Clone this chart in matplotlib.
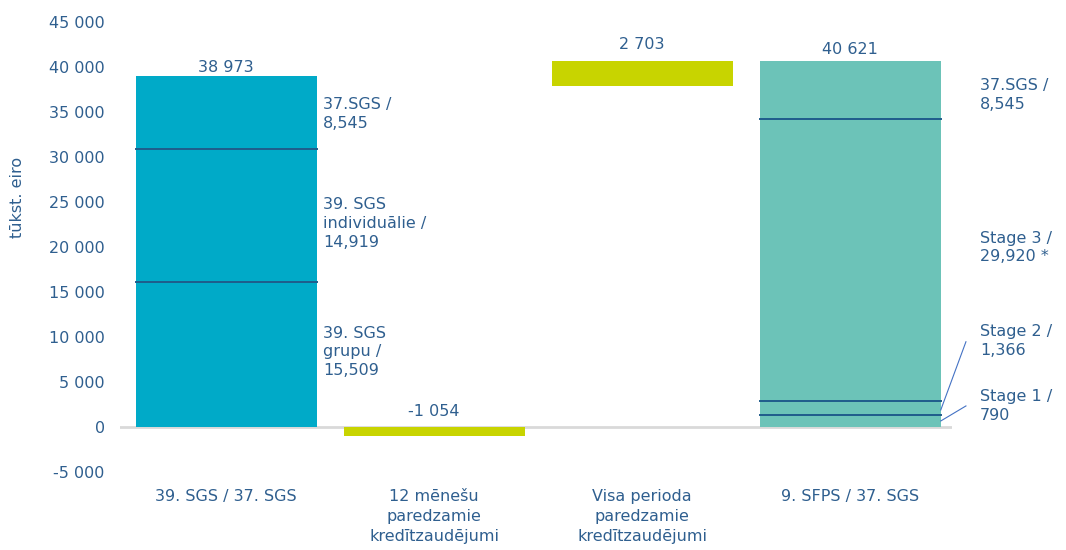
import matplotlib.pyplot as plt
from matplotlib.ticker import FuncFormatter

# dati
categories = ['39. SGS / 37. SGS',
              '12 mēnešu\nparedzamie\nkredītzaudējumi',
              'Visa perioda\nparedzamie\nkredītzaudējumi',
              '9. SFPS / 37. SGS']
values = [38973, -1054, 2703, 40621]

left_dividers = [16150, 30850]
left_labels = ['39. SGS\ngrupu /\n15,509', '39. SGS\nindividuālie /\n14,919', '37.SGS /\n8,545']
left_label_y = [8360, 22620, 34760]

right_dividers = [1340, 2900, 34200]
right_labels = ['Stage 1 /\n790', 'Stage 2 /\n1,366', 'Stage 3 /\n29,920 *', '37.SGS /\n8,545']
right_label_y = [2340, 9580, 19945, 36880]

text_c = '#2F5F8F'
colors = ['#00AAC8', '#C8D400', '#C8D400', '#6CC3B8']

plt.rcParams['font.family'] = ['DejaVu Sans']
plt.rcParams['font.size'] = 11.5

fig = plt.figure(figsize=(10.66, 5.5), dpi=100)
ax = fig.add_axes([120 / 1066, 1 - 472 / 550, 832 / 1066, 450 / 550])

bottoms = [0, 0, values[0] + values[1], 0]
x = list(range(len(categories)))
xs = [i + 0.01 for i in x]  # stabiņi nedaudz pa labi
w = 0.87
ax.bar(xs, values, bottom=bottoms, width=w, color=colors, zorder=2)

# vērtību etiķetes
offsets = [1, 6, 7, 3]
for i, v in enumerate(values):
    top = max(bottoms[i], bottoms[i] + v)
    ax.annotate(f'{v:,}'.replace(',', ' '), (xs[i], top), xytext=(0, offsets[i]),
                textcoords='offset points', ha='center', va='bottom', color=text_c)

# dalījuma līnijas
for d in left_dividers:
    ax.plot([xs[0] - w / 2, xs[0] + w / 2], [d, d], color='#1F5C8B', lw=1.4, zorder=3)
for d in right_dividers:
    ax.plot([xs[3] - w / 2, xs[3] + w / 2], [d, d], color='#1F5C8B', lw=1.4, zorder=3)

for lab, y in zip(left_labels, left_label_y):
    ax.text(xs[0] + w / 2 + 0.03, y, lab, ha='left', va='center', color=text_c,
            linespacing=1.3)
for lab, y in zip(right_labels, right_label_y):
    ax.text(xs[3] + w / 2 + 0.19, y, lab, ha='left', va='center', color=text_c,
            linespacing=1.3, clip_on=False)

# norādes līnijas
ax.plot([3.446, 3.567], [1894, 9471], color='#4472C4', lw=0.8, clip_on=False)
ax.plot([3.446, 3.567], [669, 2340], color='#4472C4', lw=0.8, clip_on=False)

ax.axhline(0, color='#D9D9D9', lw=2, zorder=1)

ax.set_xlim(-0.5, 3.5)
ax.set_ylim(-5000, 45000)
ax.set_yticks(range(-5000, 45001, 5000))
ax.yaxis.set_major_formatter(FuncFormatter(lambda v, p: f'{int(v):,}'.replace(',', ' ')))
ax.set_xticks(xs)
ax.set_xticklabels(categories, color=text_c, linespacing=1.45)
ax.tick_params(axis='both', length=0, colors=text_c)
ax.tick_params(axis='y', pad=11)
ax.tick_params(axis='x', pad=12)
for s in ax.spines.values():
    s.set_visible(False)

fig.text(18 / 1066, 1 - 197 / 550, 'tūkst. eiro', rotation=90, ha='center', va='center',
         color=text_c)

plt.savefig('out.png', dpi=100)
